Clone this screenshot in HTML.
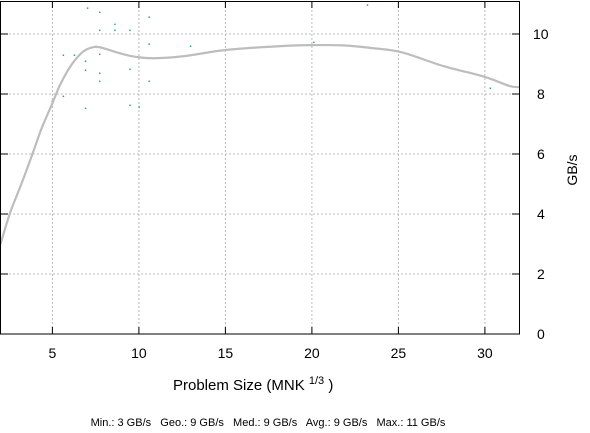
<!DOCTYPE html>
<html><head><meta charset="utf-8"><style>
body{margin:0;background:#fff;font-family:"Liberation Sans",sans-serif}
svg{display:block}
</style></head><body>
<svg id="c" width="590" height="433" font-family="Liberation Sans, sans-serif">
<g id="grid"></g>
<g id="dots"></g>
<path id="line" fill="none" stroke="#bdbdbd" stroke-width="2.2"/>
<rect x="0.5" y="1.5" width="519" height="332.5" fill="none" stroke="#000" stroke-width="1"/>
<g id="axes" font-size="14"></g>
<text x="577" y="170" font-size="14" text-anchor="middle" transform="rotate(-90 577 170)">GB/s</text>
<text x="173" y="390" font-size="15">Problem Size (MNK <tspan font-size="11" dy="-6">1/3</tspan><tspan dy="6"> )</tspan></text>
<text x="268" y="426" font-size="11" text-anchor="middle" style="white-space:pre" xml:space="preserve">Min.: 3 GB/s   Geo.: 9 GB/s   Med.: 9 GB/s   Avg.: 9 GB/s   Max.: 11 GB/s</text>
</svg>
<script>
const xTicks=[5,10,15,20,25,30];
const yTicks=[0,2,4,6,8,10];
const lineX=[2,2.55,3.22,3.84,4.38,5.0,5.44,6.1,6.77,7.35,7.8,8.65,9.5,10.4,11.3,12.75,15.07,18.3,20.05,21.8,23.5,25.2,27.6,30,31.4,32];
const lineY=[3.0,4.03,5.02,5.99,6.86,7.69,8.3,8.97,9.41,9.56,9.55,9.4,9.27,9.2,9.2,9.27,9.47,9.6,9.63,9.62,9.53,9.39,8.93,8.57,8.27,8.23];
const dotX=[7.02,7.72,8.6,7.72,8.6,9.47,10.58,10.58,12.97,5.62,6.26,7.72,6.9,6.9,7.72,9.47,7.72,10.58,4.98,5.62,6.9,9.47,10.0,23.2,30.3,20.1,2.98];
const dotY=[10.87,10.73,10.33,10.13,10.13,10.13,10.57,9.67,9.6,9.3,9.3,9.33,9.1,8.8,8.7,8.83,8.43,8.43,7.77,7.93,7.53,7.63,7.57,10.97,8.2,9.73,4.7];
const X=v=>0.5+(v-2)*(519/30);
const Y=v=>334-v*30;
const ns="http://www.w3.org/2000/svg";
const mk=(t,a,p)=>{const e=document.createElementNS(ns,t);for(const k in a)e.setAttribute(k,a[k]);p.appendChild(e);return e;};
const grid=document.getElementById('grid'),axes=document.getElementById('axes'),dots=document.getElementById('dots');
xTicks.forEach(v=>{
 const g=mk('line',{x1:X(v),x2:X(v),y1:2,y2:334,stroke:'#bbb','stroke-dasharray':'2,2'},grid);
 
 
 const t=mk('line',{x1:X(v),x2:X(v),y1:334,y2:327,stroke:'#000'},axes);
 
 
 const t2=mk('line',{x1:X(v),x2:X(v),y1:1,y2:8,stroke:'#000'},axes);
 
 
 const l=mk('text',{x:X(v),y:358,'text-anchor':'middle'},axes);l.textContent=v;
 
 
});
yTicks.forEach(v=>{
 if(v>0&&v<11){const g=mk('line',{x1:1,x2:519,y1:Y(v),y2:Y(v),stroke:'#bbb','stroke-dasharray':'2,2'},grid);
 
 }
 const t=mk('line',{x1:512,x2:520,y1:Y(v),y2:Y(v),stroke:'#000'},axes);
 
 
 const t2=mk('line',{x1:0,x2:8,y1:Y(v),y2:Y(v),stroke:'#000'},axes);
 
 
 const l=mk('text',{x:v>=10?533:537,y:Y(v)+5},axes);l.textContent=v;
 
 
});
dotX.forEach((v,i)=>{
 const d=mk('rect',{x:X(v)-0.5,y:Y(dotY[i])-0.5,width:1.5,height:1.5,fill:'#1fa88a'},dots);
 
 
});
const pts=lineX.map((v,i)=>[X(v),Y(lineY[i])]);
let d='M'+pts[0][0]+','+pts[0][1];
for(let i=0;i<pts.length-1;i++){
 const p0=pts[Math.max(0,i-1)],p1=pts[i],p2=pts[i+1],p3=pts[Math.min(pts.length-1,i+2)];
 d+=' C'+(p1[0]+(p2[0]-p0[0])/6)+','+(p1[1]+(p2[1]-p0[1])/6)+' '+(p2[0]-(p3[0]-p1[0])/6)+','+(p2[1]-(p3[1]-p1[1])/6)+' '+p2[0]+','+p2[1];
}
document.getElementById('line').setAttribute('d',d);
</script>
</body></html>
